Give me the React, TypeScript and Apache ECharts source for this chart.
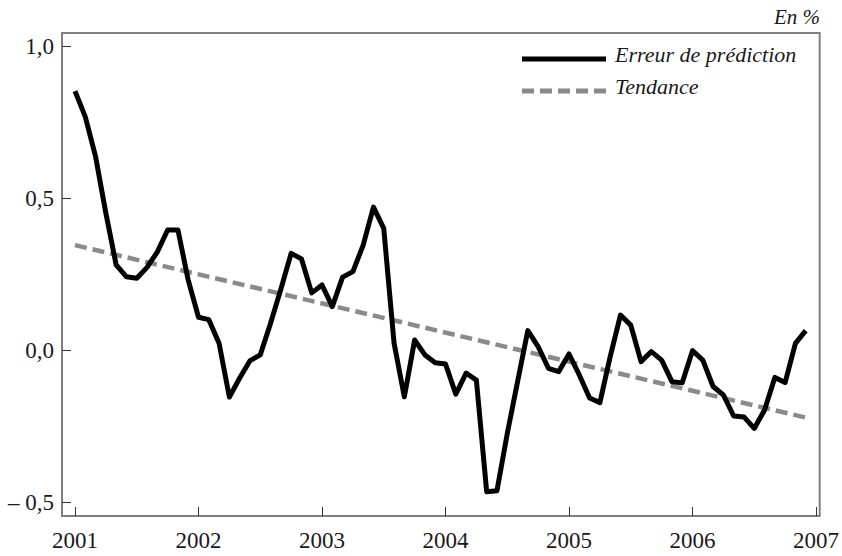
import React, { useEffect, useRef } from "react";
import * as echarts from "echarts";

// Monthly prediction error (in %), January 2001 – December 2006
const err2001 = [0.852, 0.767, 0.636, 0.45, 0.28, 0.241, 0.236, 0.272, 0.323, 0.395, 0.395, 0.23];
const err2002 = [0.108, 0.1, 0.022, -0.155, -0.092, -0.035, -0.016, 0.088, 0.2, 0.318, 0.3, 0.188];
const err2003 = [0.214, 0.143, 0.24, 0.258, 0.345, 0.47, 0.4, 0.023, -0.154, 0.033, -0.016, -0.042];
const err2004 = [-0.046, -0.145, -0.076, -0.099, -0.466, -0.463, -0.275, -0.104, 0.064, 0.011, -0.06, -0.071];
const err2005 = [-0.013, -0.082, -0.158, -0.173, -0.022, 0.115, 0.082, -0.038, -0.005, -0.033, -0.104, -0.108];
const err2006 = [-0.002, -0.033, -0.12, -0.148, -0.217, -0.22, -0.258, -0.197, -0.09, -0.107, 0.022, 0.064];

const startYear = 2001;
// Trend line endpoints: [time, value]
const trendStart = [2001, 0.345];
const trendEnd = [2006 + 11 / 12, -0.222];

const xTicks = [2001, 2002, 2003, 2004, 2005, 2006, 2007];
const yTicks = [-0.5, 0, 0.5, 1.0];

const seriesNames = ["Erreur de prédiction", "Tendance"];
const unitLabel = "En %";

const FONT = '"Liberation Serif", "Times New Roman", serif';

export default function App() {
  const ref = useRef<HTMLDivElement>(null);

  useEffect(() => {
    if (!ref.current) return;
    const chart = echarts.init(ref.current, undefined, { renderer: "svg" });
    const all = [...err2001, ...err2002, ...err2003, ...err2004, ...err2005, ...err2006];
    const errData = all.map((v, i) => [startYear + i / 12, v]);
    const trendData = [trendStart, trendEnd];

    const fmtY = (v: number) => {
      const s = Math.abs(v).toFixed(1).replace(".", ",");
      return v < 0 ? "– " + s : s;
    };

    chart.setOption({
      animation: false,
      backgroundColor: "#ffffff",
      grid: {
        left: 62,
        right: 22,
        top: 33,
        bottom: 40,
        show: true,
        borderColor: "#808080",
        borderWidth: 2,
        backgroundColor: "transparent",
      },
      xAxis: {
        type: "value",
        min: 2000.8946,
        max: 2007.03,
        splitLine: { show: false },
        axisLine: { show: false, onZero: false },
        axisTick: {
          show: true,
          inside: true,
          length: 9,
          customValues: xTicks,
          lineStyle: { color: "#333", width: 1 },
        },
        axisLabel: {
          customValues: xTicks,
          formatter: (v: number) => String(Math.round(v)),
          fontFamily: FONT,
          fontSize: 23,
          color: "#1a1a1a",
          margin: 13,
        },
      },
      yAxis: {
        type: "value",
        min: -0.546,
        max: 1.043,
        splitLine: { show: false },
        axisLine: { show: false, onZero: false },
        axisTick: {
          show: true,
          inside: true,
          length: 9,
          customValues: yTicks,
          lineStyle: { color: "#333", width: 1 },
        },
        axisLabel: {
          customValues: yTicks,
          formatter: fmtY,
          fontFamily: FONT,
          fontSize: 23,
          color: "#1a1a1a",
          margin: 8,
          padding: [0, 0, 8, 0],
        },
      },
      series: [
        {
          name: seriesNames[1],
          type: "line",
          data: trendData,
          showSymbol: false,
          symbol: "none",
          lineStyle: { color: "#8a8a8a", width: 4.5, type: [12, 6] },
          z: 2,
        },
        {
          name: seriesNames[0],
          type: "line",
          data: errData,
          showSymbol: false,
          symbol: "none",
          lineStyle: { color: "#000000", width: 5, join: "round" },
          z: 3,
        },
      ],
      graphic: [
        {
          type: "text",
          right: 22,
          top: 6,
          style: {
            text: unitLabel,
            font: "italic 21px " + FONT,
            fill: "#1a1a1a",
          },
        },
        {
          type: "line",
          shape: { x1: 522, y1: 59, x2: 606, y2: 59 },
          style: { stroke: "#000", lineWidth: 5 },
        },
        {
          type: "text",
          x: 615,
          y: 54,
          style: {
            text: seriesNames[0],
            font: "italic 22px " + FONT,
            fill: "#1a1a1a",
            textVerticalAlign: "middle",
            textAlign: "left",
          },
        },
        {
          type: "line",
          shape: { x1: 522, y1: 91, x2: 606, y2: 91 },
          style: { stroke: "#8a8a8a", lineWidth: 5, lineDash: [12, 6] },
        },
        {
          type: "text",
          x: 615,
          y: 86,
          style: {
            text: seriesNames[1],
            font: "italic 22px " + FONT,
            fill: "#1a1a1a",
            textVerticalAlign: "middle",
            textAlign: "left",
          },
        },
      ],
    });
    return () => chart.dispose();
  }, []);

  return (
    <div
      ref={ref}
      style={{ position: "fixed", left: 0, top: 0, width: 842, height: 556, background: "#fff" }}
    />
  );
}
